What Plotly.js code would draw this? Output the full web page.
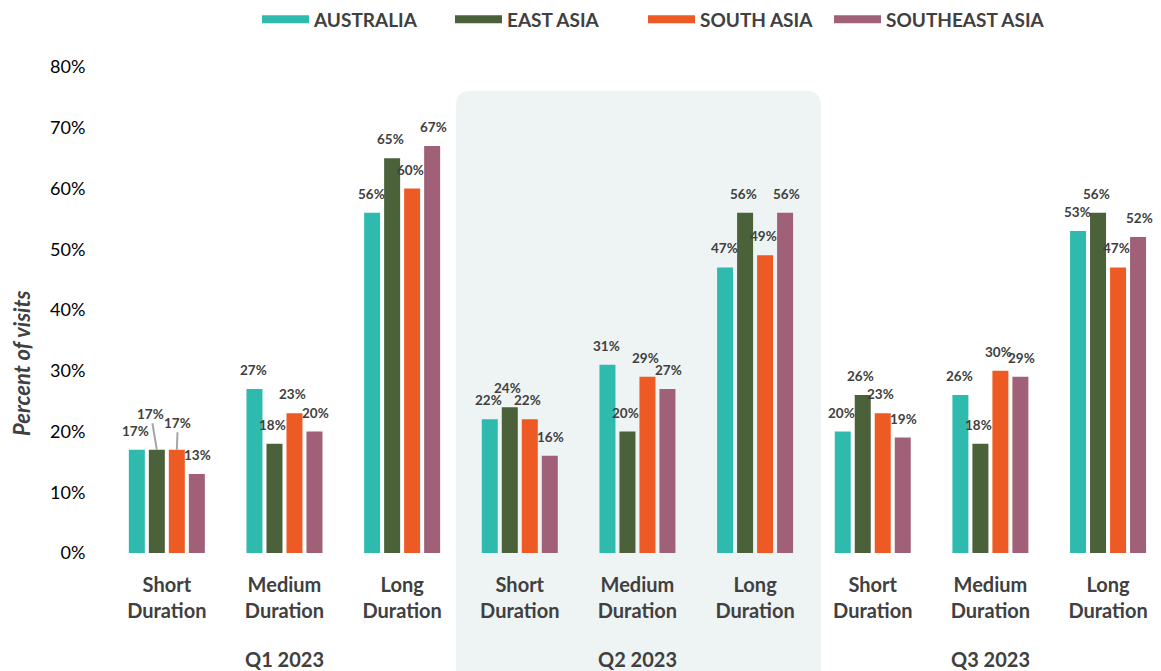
<!DOCTYPE html>
<html>
<head>
<meta charset="utf-8">
<script src="https://cdn.plot.ly/plotly-3.0.1.min.js"></script>
<style>html,body{margin:0;padding:0;background:#fff}#chart{width:1161px;height:671px}</style>
</head>
<body>
<div id="chart"></div>
<script>
const categoryIds = ["Q1 Short","Q1 Medium","Q1 Long","Q2 Short","Q2 Medium","Q2 Long","Q3 Short","Q3 Medium","Q3 Long"];
const tickLabels = ["Short<br>Duration","Medium<br>Duration","Long<br>Duration","Short<br>Duration","Medium<br>Duration","Long<br>Duration","Short<br>Duration","Medium<br>Duration","Long<br>Duration"];
const quarters = ["Q1 2023","Q2 2023","Q3 2023"];
const quarterCenters = ["Q1 Medium","Q2 Medium","Q3 Medium"];
const seriesNames = ["AUSTRALIA","EAST ASIA","SOUTH ASIA","SOUTHEAST ASIA"];
const australia = [17,27,56,22,31,47,20,26,53];
const eastAsia = [17,18,65,24,20,56,26,18,56];
const southAsia = [17,23,60,22,29,49,23,30,47];
const southeastAsia = [13,20,67,16,27,56,19,29,52];
const yTicks = [0,10,20,30,40,50,60,70,80];
const colors = ["#2EBBAE","#4A613A","#EE5A24","#A06077"];

const seriesValues = [australia, eastAsia, southAsia, southeastAsia];
const FONT = "Lato, 'Open Sans', sans-serif";
const textColor = "#404040";

const W = 1161, H = 671, ML = 108, MR = 0, MT = 65, MB = 118;
const xRange = [-0.5, 8.45];
const bargap = 0.32, bargroupgap = 0.2;
const catPx = (W - ML - MR) / (xRange[1] - xRange[0]);
const slotPx = catPx * (1 - bargap) / seriesValues.length;
const legendWidths = [131, 131, 124, 170];
const labelNudge = [-1, -2, -2, 1];

// labels drawn with leader lines (Q1 Short, East Asia & South Asia)
const leader = {1: {idx: 0, dx: -6, dy: -36}, 2: {idx: 0, dx: 1, dy: -27}};

const traces = seriesValues.map((vals, s) => ({
  type: "bar",
  name: seriesNames[s],
  legendgroup: seriesNames[s],
  showlegend: false,
  x: categoryIds,
  y: vals,
  marker: {color: colors[s]},
  hoverinfo: "x+y"
}));
// legend entries drawn as wide swatches
seriesNames.forEach((n, s) => {
  traces.push({
    type: "scatter", mode: "lines", name: n, legendgroup: n,
    legendwidth: legendWidths[s],
    x: [null], y: [null], line: {color: colors[s], width: 8}, hoverinfo: "skip"
  });
});

const annotations = [];
seriesValues.forEach((vals, s) => {
  vals.forEach((v, i) => {
    const xs = (s - (seriesValues.length - 1) / 2) * slotPx;
    const L = leader[s] && leader[s].idx === i ? leader[s] : null;
    if (L) {
      annotations.push({
        x: categoryIds[i], xref: "x", y: v, yref: "y",
        xshift: xs, ax: L.dx, ay: L.dy,
        text: "<b>" + v + "%</b>",
        showarrow: true, arrowhead: 0, arrowwidth: 2, arrowcolor: "#A6A6A6", standoff: 0,
        font: {family: FONT, size: 13.5, color: textColor}
      });
    } else {
      annotations.push({
        x: categoryIds[i], xref: "x", y: v, yref: "y",
        xshift: xs + labelNudge[s], yshift: 19, yanchor: "middle",
        text: "<b>" + v + "%</b>", showarrow: false,
        font: {family: FONT, size: 13.5, color: textColor}
      });
    }
  });
});
quarters.forEach((q, i) => {
  annotations.push({
    x: quarterCenters[i], xref: "x", y: -0.219, yref: "paper",
    text: "<b>" + q + "</b>", showarrow: false, yanchor: "middle",
    font: {family: FONT, size: 20, color: textColor}
  });
});
annotations.push({
  x: -0.082, xref: "paper", y: 0.39, yref: "paper",
  text: "<b><i>Percent of visits</i></b>", textangle: -90, showarrow: false,
  xanchor: "center", yanchor: "middle",
  font: {family: FONT, size: 22, color: textColor}
});

// rounded shaded background behind Q2 2023
const x0 = 0.3305, x1 = 0.677, y0 = -0.3, y1 = 0.951, rx = 0.0142, ry = 0.0307;
const path = `M ${x0},${y0} L ${x0},${y1-ry} Q ${x0},${y1} ${x0+rx},${y1} L ${x1-rx},${y1} Q ${x1},${y1} ${x1},${y1-ry} L ${x1},${y0} Z`;

const layout = {
  width: W, height: H,
  margin: {l: ML, r: MR, t: MT, b: MB},
  paper_bgcolor: "#ffffff", plot_bgcolor: "rgba(0,0,0,0)",
  barmode: "group", bargap: bargap, bargroupgap: bargroupgap,
  font: {family: FONT, color: textColor},
  showlegend: true,
  legend: {
    orientation: "h", x: 0.1415, xanchor: "left", y: 1.098, yanchor: "middle",
    itemwidth: 47,
    font: {family: FONT, size: 19, color: textColor, weight: "bold"},
    traceorder: "normal", itemclick: false, itemdoubleclick: false
  },
  xaxis: {
    type: "category", range: xRange, tickmode: "array", tickvals: categoryIds, ticktext: tickLabels,
    tickfont: {family: FONT, size: 20, color: textColor, weight: "bold"},
    ticks: "outside", ticklen: 14, tickcolor: "rgba(0,0,0,0)",
    showline: false, showgrid: false, zeroline: false, fixedrange: true
  },
  yaxis: {
    range: [0, 80], tickmode: "array", tickvals: yTicks, ticktext: yTicks.map(v => v + "%"),
    tickfont: {family: FONT, size: 18, color: "#000000"},
    showgrid: false, zeroline: false, showline: false,
    ticks: "outside", ticklen: 18, tickcolor: "rgba(0,0,0,0)", fixedrange: true
  },
  shapes: [{
    type: "path", xref: "paper", yref: "paper", path: path,
    fillcolor: "#EEF3F3", line: {width: 0}, layer: "below"
  }],
  annotations: annotations
};

Plotly.newPlot("chart", traces, layout, {displayModeBar: false, responsive: false});
</script>
</body>
</html>
